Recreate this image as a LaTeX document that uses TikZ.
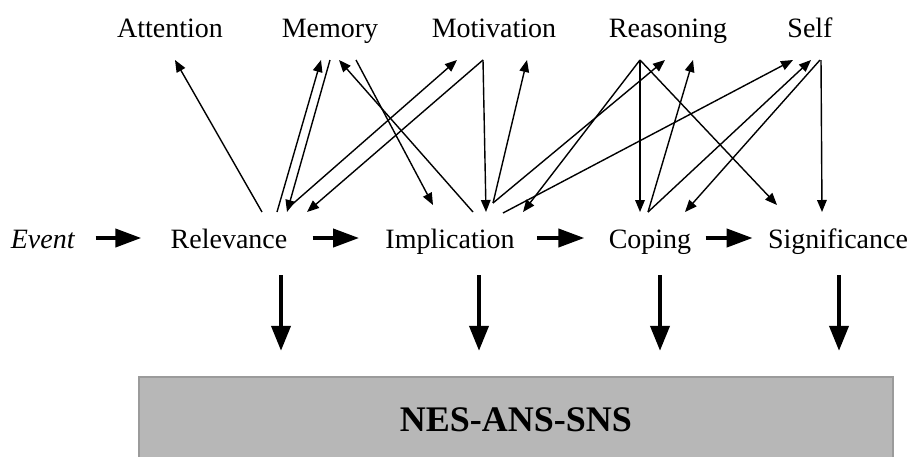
\documentclass[tikz,border=0pt]{standalone}
\usepackage{fontspec}
\setmainfont{Liberation Serif}
\usetikzlibrary{arrows.meta}
\definecolor{boxgray}{RGB}{183,183,183}
\definecolor{edgegray}{RGB}{155,155,155}
\tikzset{
  lbl/.style={inner sep=0pt, text height=10pt, text depth=0pt, font=\fontsize{14}{16}\selectfont},
  link/.style={-{Triangle[length=6pt,width=4.8pt]}, line width=0.7pt},
  flow/.style={-{Triangle[length=13pt,width=9pt]}, line width=2pt},
  down/.style={-{Triangle[length=12.5pt,width=9.5pt]}, line width=2pt}
}
\begin{document}
\begin{tikzpicture}[x=0.5pt,y=-0.5pt]
\useasboundingbox (0,0) rectangle (909,456);

%top row
\node[lbl] (att) at (170,27) {Attention};
\node[lbl] (mem) at (330,27) {Memory};
\node[lbl] (mot) at (494,27) {Motivation};
\node[lbl] (rea) at (668,27) {Reasoning};
\node[lbl] (self) at (810,27) {Self};

%middle row
\node[lbl] (ev) at (43,238) {\textit{Event}};
\node[lbl] (rel) at (229,238) {Relevance};
\node[lbl] (imp) at (450,238) {Implication};
\node[lbl] (cop) at (650,238) {Coping};
\node[lbl] (sig) at (838,238) {Significance};

%bottom box
\node[draw=edgegray, line width=1.2pt, fill=boxgray, inner sep=0pt, minimum width=377pt, minimum height=42.5pt,
      font=\fontsize{18}{20}\selectfont\bfseries] (nes) at (516,419.5) {NES-ANS-SNS};

%sequence
\draw[flow, shorten <=10pt, shorten >=14.5pt] (ev) -- (rel);
\draw[flow, shorten <=12.5pt, shorten >=13pt] (rel) -- (imp);
\draw[flow, shorten <=11pt, shorten >=12pt] (imp) -- (cop);
\draw[flow, shorten <=7pt, shorten >=7.5pt] (cop) -- (sig);

%down to the box
\draw[down] ([shift={(52,37)}]rel.center) -- ([shift={(-235,-25)}]nes.north);
\draw[down] ([shift={(29,37)}]imp.center) -- ([shift={(-37,-25)}]nes.north);
\draw[down] ([shift={(10,37)}]cop.center) -- ([shift={(144,-25)}]nes.north);
\draw[down] ([shift={(1,37)}]sig.center) -- ([shift={(323,-25)}]nes.north);

%relevance
\draw[link] ([shift={(33,-26)}]rel.center) -- ([shift={(5,33)}]att.center);
\draw[link] ([shift={(48,-26)}]rel.center) -- ([shift={(-9,33)}]mem.center);
\draw[link] ([shift={(0,33)}]mem.center) -- ([shift={(58,-26)}]rel.center);
\draw[link] ([shift={(59,-30)}]rel.center) -- ([shift={(-37,33)}]mot.center);
\draw[link] ([shift={(-11,33)}]mot.center) -- ([shift={(78,-26)}]rel.center);

%implication
\draw[link] ([shift={(26,33)}]mem.center) -- ([shift={(-17,-33)}]imp.center);
\draw[link] ([shift={(23,-26)}]imp.center) -- ([shift={(9,33)}]mem.center);
\draw[link] ([shift={(-11,33)}]mot.center) -- ([shift={(36,-26)}]imp.center);
\draw[link] ([shift={(43,-35)}]imp.center) -- ([shift={(33,33)}]mot.center);
\draw[link] ([shift={(43,-35)}]imp.center) -- ([shift={(-3,33)}]rea.center);
\draw[link] ([shift={(-28,33)}]rea.center) -- ([shift={(73,-26)}]imp.center);
\draw[link] ([shift={(53,-25)}]imp.center) -- ([shift={(-17,33)}]self.center);

%coping
\draw[link] ([shift={(-28,33)}]rea.center) -- ([shift={(-10,-26)}]cop.center);
\draw[link] ([shift={(-2,-26)}]cop.center) -- ([shift={(25,33)}]rea.center);
\draw[link] ([shift={(-2,-26)}]cop.center) -- ([shift={(1,33)}]self.center);
\draw[link] ([shift={(10,33)}]self.center) -- ([shift={(35,-26)}]cop.center);

%significance
\draw[link] ([shift={(-28,33)}]rea.center) -- ([shift={(-61,-33)}]sig.center);
\draw[link] ([shift={(11,33)}]self.center) -- ([shift={(-16,-26)}]sig.center);
\end{tikzpicture}
\end{document}
